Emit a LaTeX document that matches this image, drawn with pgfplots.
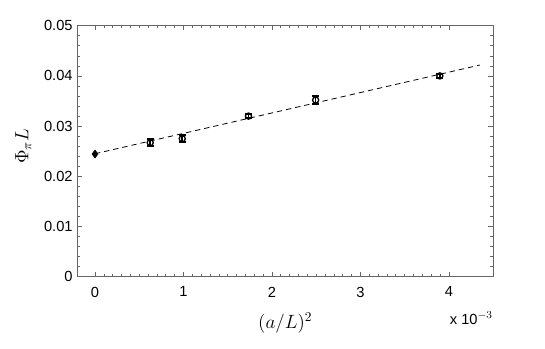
\documentclass[border=0pt]{standalone}
\usepackage{pgfplots}
\pgfplotsset{compat=1.18}
\usepackage{fontspec}
\setmainfont{Liberation Sans}
\begin{document}
\begin{tikzpicture}
\path[use as bounding box] (0,0) rectangle (408.75pt,261.75pt);
\begin{axis}[
  at={(58pt,54.2pt)}, anchor=south west,
  scale only axis, width=311.8pt, height=188.25pt,
  xmin=-0.2, xmax=4.5, ymin=0, ymax=0.05,
  xtick={0,1,2,3,4}, ytick={0,0.01,0.02,0.03,0.04,0.05},
  minor x tick num=9, minor y tick num=4,
  tick align=inside, major tick length=3.5pt, minor tick length=2pt,
  axis line style={gray!80!black, line width=0.6pt},
  every tick/.style={gray!80!black, line width=0.5pt},
  /pgf/number format/assume math mode=true,
  yticklabel style={/pgf/number format/fixed, /pgf/number format/precision=2, font=\fontsize{11}{12}\selectfont},
  xticklabel style={font=\fontsize{11}{12}\selectfont, yshift=-4pt},
  scaled y ticks=false,
  xlabel={\fontsize{14.5}{16}\selectfont $(a/L)^2$},
  ylabel={\fontsize{14.5}{16}\selectfont $\Phi_\pi L$},
  xlabel style={at={(axis description cs:0.5,0)}, anchor=center, yshift=-34.5pt},
  ylabel style={at={(axis description cs:0,0.52)}, anchor=center, yshift=40.5pt},
  clip=false,
]
\addplot[black, dashed, line width=0.6pt, dash pattern=on 4pt off 3pt] coordinates {(0,0.02450) (4.35,0.04217)};
\addplot[black, only marks, mark=diamond*, mark options={fill=black, mark size=3pt}] coordinates {(0,0.02444)};
\addplot[black, only marks, mark=o, mark options={line width=1pt, mark size=2.3pt},
  error bars/.cd, y dir=both, y explicit, error bar style={line width=1.3pt}, error mark options={rotate=90, mark size=2.6pt, line width=1.3pt}]
  coordinates {
  (0.624,0.0267) +- (0,0.0007)
  (0.986,0.0275) +- (0,0.0007)
  (1.735,0.0320) +- (0,0.0004)
  (2.494,0.0352) +- (0,0.0008)
  (3.898,0.0400) +- (0,0.0004)
  };
\node[anchor=east, font=\fontsize{11}{12}\selectfont, inner sep=0pt] at ([yshift=-31pt]rel axis cs:1,0) {x 10$^{-3}$};
\end{axis}
\end{tikzpicture}
\end{document}
